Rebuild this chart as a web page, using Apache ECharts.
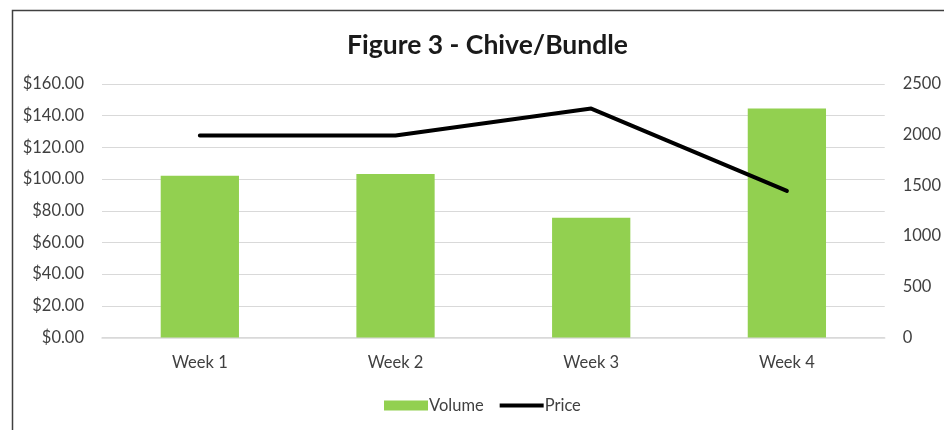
<!DOCTYPE html>
<html>
<head>
<meta charset="utf-8">
<script src="https://cdn.jsdelivr.net/npm/echarts@6/dist/echarts.min.js"></script>
<style>
html,body{margin:0;padding:0;background:#fff;}
#chart{width:944px;height:430px;}
</style>
</head>
<body>
<div id="chart"></div>
<script>
const categories = ['Week 1', 'Week 2', 'Week 3', 'Week 4'];
const volume = [1595, 1612, 1180, 2258];
const price = [127.5, 127.5, 144.5, 92.5];
const priceTicks = { min: 0, max: 160, interval: 20 };
const volumeTicks = { min: 0, max: 2500, interval: 500 };

const chart = echarts.init(document.getElementById('chart'));
const FONT = 'Lato, "Liberation Sans", sans-serif';
const LBL = { fontFamily: FONT, fontSize: 16.5, color: '#404040' };
chart.setOption({
  animation: false,
  backgroundColor: '#ffffff',
  graphic: [{
    type: 'rect', left: 10, top: 8,
    shape: { width: 960, height: 460 },
    style: { fill: 'none', stroke: '#404040', lineWidth: 1.5 },
    silent: true, z: -1
  }],
  title: {
    text: 'Figure 3 - Chive/Bundle',
    left: 342, top: 27,
    textStyle: { fontFamily: FONT, fontSize: 26.5, fontWeight: 'bold', color: '#1a1a1a' }
  },
  legend: {
    bottom: 11, left: 379,
    itemGap: 16, itemWidth: 44, itemHeight: 10,
    textStyle: Object.assign({}, LBL, { padding: [0, 0, 0, -4] }),
    data: [
      { name: 'Volume', icon: 'rect', itemStyle: { color: '#92d050' } },
      { name: 'Price', icon: 'path://M0,0 L0,0 M0,3 L44,3 L44,7 L0,7 Z M44,10 L44,10', itemStyle: { color: '#000000' } }
    ]
  },
  grid: { left: 102, right: 56, top: 84, bottom: 92.5 },
  xAxis: {
    type: 'category', data: categories,
    axisLine: { lineStyle: { color: '#d9d9d9', width: 1.5 } },
    axisTick: { show: false },
    axisLabel: Object.assign({}, LBL, { margin: 17 })
  },
  yAxis: [{
    type: 'value', min: priceTicks.min, max: priceTicks.max, interval: priceTicks.interval,
    axisLine: { show: false }, axisTick: { show: false },
    splitLine: { lineStyle: { color: '#d9d9d9', width: 1.2 } },
    axisLabel: Object.assign({}, LBL, { margin: 18, formatter: v => '$' + v.toFixed(2) })
  }, {
    type: 'value', min: volumeTicks.min, max: volumeTicks.max, interval: volumeTicks.interval,
    axisLine: { show: false }, axisTick: { show: false },
    splitLine: { show: false },
    axisLabel: Object.assign({}, LBL, { margin: 18, formatter: v => String(v) })
  }],
  series: [{
    name: 'Volume', type: 'bar', yAxisIndex: 1, data: volume,
    barCategoryGap: '60%',
    itemStyle: { color: '#92d050' }
  }, {
    name: 'Price', type: 'line', yAxisIndex: 0, data: price,
    symbol: 'none',
    lineStyle: { color: '#000000', width: 4, cap: 'round', join: 'round' },
    itemStyle: { color: '#000000' },
    z: 3
  }]
});
</script>
</body>
</html>
